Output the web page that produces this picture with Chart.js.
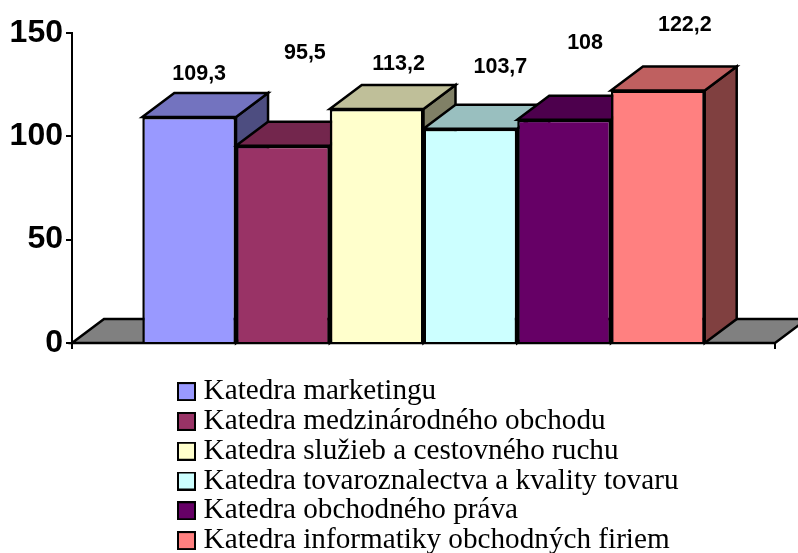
<!DOCTYPE html>
<html><head><meta charset="utf-8">
<style>html,body{margin:0;padding:0;background:#fff}canvas{display:block}</style>
<script src="https://cdn.jsdelivr.net/npm/chart.js@4"></script></head>
<body><canvas id="c" width="798" height="553"></canvas>
<script>
const categories = [''];
const seriesNames = ['Katedra marketingu','Katedra medzinárodného obchodu','Katedra služieb a cestovného ruchu','Katedra tovaroznalectva a kvality tovaru','Katedra obchodného práva','Katedra informatiky obchodných firiem'];
const seriesValues = [109.3,95.5,113.2,103.7,108,122.2];
const valueLabels = ['109,3','95,5','113,2','103,7','108','122,2'];
const frontColors = ['#9999FF','#993366','#FFFFCC','#CCFFFF','#660066','#FF8080'];
const topColors = ['#7373BF','#73264D','#BFBF99','#99BFBF','#4D004D','#BF6060'];
const sideColors = ['#4D4D80','#4D1A33','#808066','#668080','#330033','#804040'];
const labelOffsetX = [10,22,22,30,21,27];
const labelOffsetY = [-43,-93,-45,-62,-77,-65];
const depthX = 32, depthY = 24;

function legendBox(color){
  const k=document.createElement('canvas');k.width=38;k.height=19;
  const g=k.getContext('2d');g.fillStyle=color;g.fillRect(13,0,19,19);
  g.strokeStyle='#000';g.lineWidth=2;g.strokeRect(14,1,17,17);return k;
}
function poly(ctx,pts,fill){
  ctx.beginPath();pts.forEach((p,i)=>i?ctx.lineTo(p[0],p[1]):ctx.moveTo(p[0],p[1]));ctx.closePath();
  ctx.fillStyle=fill;ctx.fill();ctx.strokeStyle='#000';ctx.lineWidth=2.5;ctx.lineJoin='miter';ctx.stroke();
}
const bar3d = {
  id:'bar3d',
  afterLayout(chart){
    const l=chart.legend;
    l.left=176.4;l.right=760;l.top=376.4;l.bottom=800;
  },
  beforeDatasetsDraw(chart){
    const ctx=chart.ctx,a=chart.chartArea,b=a.bottom;
    ctx.save();
    poly(ctx,[[a.left,b],[a.left+depthX,b-depthY],[a.right+depthX,b-depthY],[a.right,b]],'#808080');
    chart.data.datasets.forEach((d,i)=>{
      const e=chart.getDatasetMeta(i).data[0];
      const x0=e.x-e.width/2,x1=e.x+e.width/2,y=e.y;
      poly(ctx,[[x1,y],[x1+depthX,y-depthY],[x1+depthX,b-depthY],[x1,b]],sideColors[i]);
      poly(ctx,[[x0,y],[x0+depthX,y-depthY],[x1+depthX,y-depthY],[x1,y]],topColors[i]);
    });
    ctx.restore();
  },
  afterDatasetsDraw(chart){
    const ctx=chart.ctx;
    ctx.save();
    ctx.font='bold 21.5px "Liberation Sans"';ctx.fillStyle='#000';ctx.textAlign='center';ctx.textBaseline='middle';
    chart.data.datasets.forEach((d,i)=>{
      const e=chart.getDatasetMeta(i).data[0];
      ctx.fillText(valueLabels[i],e.x+labelOffsetX[i],e.y+labelOffsetY[i]);
    });
    ctx.restore();
  }
};
new Chart(document.getElementById('c'),{
  type:'bar',
  data:{labels:categories,datasets:seriesNames.map((n,i)=>({
    label:n,data:[seriesValues[i]],backgroundColor:frontColors[i],borderColor:'#000',borderWidth:2.5,
    barPercentage:1,categoryPercentage:0.8
  }))},
  options:{
    responsive:false,animation:false,
    layout:{padding:{left:0,right:22,top:33,bottom:200}},
    plugins:{
      tooltip:{enabled:false},
      legend:{
        position:'right',align:'start',maxWidth:1,
        labels:{
          color:'#000',font:{family:'"Liberation Serif"',size:29.2},padding:0.6,
          usePointStyle:true,pointStyleWidth:12,
          generateLabels:()=>seriesNames.map((n,i)=>({text:n,pointStyle:legendBox(frontColors[i]),fillStyle:frontColors[i],strokeStyle:'#000',lineWidth:2,datasetIndex:i,hidden:false}))
        }
      }
    },
    scales:{
      x:{
        afterFit(s){s.height=10;},
        border:{color:'#000',width:2},
        grid:{offset:true,drawOnChartArea:false,drawTicks:true,tickLength:6,color:'#000',lineWidth:2},
        ticks:{padding:0,font:{size:1}}
      },
      y:{
        min:0,max:150,
        afterFit(s){s.width=72;},
        border:{color:'#000',width:2},
        grid:{drawOnChartArea:false,tickLength:6,color:'#000',lineWidth:2},
        ticks:{stepSize:50,padding:3,color:'#000',font:{family:'"Liberation Sans"',weight:'bold',size:32}}
      }
    }
  },
  plugins:[bar3d]
});
</script></body></html>
